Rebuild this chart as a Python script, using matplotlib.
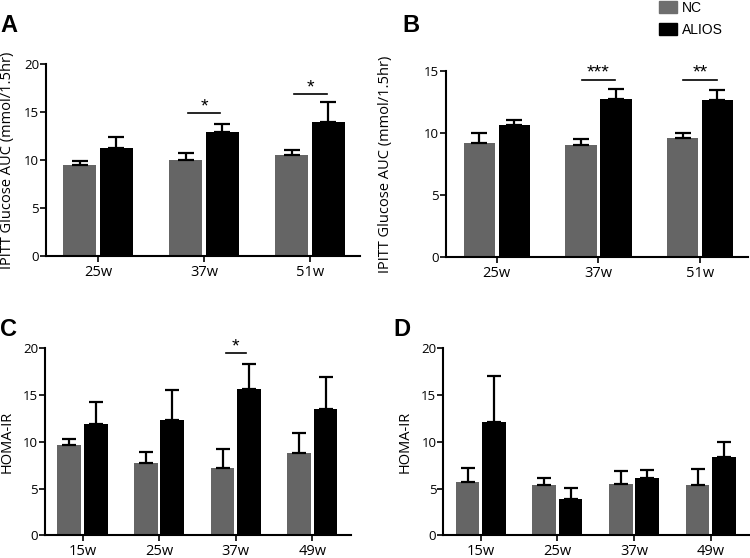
import numpy as np
import matplotlib
matplotlib.use("Agg")
from matplotlib import pyplot as plt
from matplotlib.patches import Patch

# dados
semanas_ab = ['25w', '37w', '51w']
semanas_cd = ['15w', '25w', '37w', '49w']

a_nc = [9.45, 10.05, 10.5]
a_nc_err = [0.4, 0.7, 0.5]
a_alios = [11.2, 12.95, 14.0]
a_alios_err = [1.15, 0.85, 2.0]

b_nc = [9.15, 9.05, 9.55]
b_nc_err = [0.8, 0.45, 0.45]
b_alios = [10.6, 12.75, 12.65]
b_alios_err = [0.45, 0.8, 0.85]

c_nc = [9.65, 7.75, 7.25, 8.85]
c_nc_err = [0.65, 1.2, 1.95, 2.05]
c_alios = [11.95, 12.3, 15.6, 13.55]
c_alios_err = [2.3, 3.25, 2.7, 3.35]

d_nc = [5.65, 5.4, 5.45, 5.35]
d_nc_err = [1.5, 0.7, 1.45, 1.7]
d_alios = [12.15, 3.9, 6.15, 8.4]
d_alios_err = [4.9, 1.2, 0.85, 1.6]

# significancia: (indice do grupo, texto, altura)
sig_a = [(1, '*', 14.85), (2, '*', 16.9)]
sig_b = [(1, '***', 14.3), (2, '**', 14.3)]
sig_c = [(2, '*', 19.45)]

cinza = '#656565'
preto = '#000000'
fonte_tick = 'Open Sans'
fonte_txt = 'Liberation Sans'


def painel(ax, cats, nc, nc_err, al, al_err, ymax, ystep, ylabel, xlim, sig, cap, line_half):
    x = np.arange(len(cats))
    w = 0.31
    off = 0.172
    ax.bar(x - off, nc, w, color=cinza, yerr=[np.zeros(len(nc)), nc_err],
           error_kw=dict(ecolor='black', elinewidth=1.6, capsize=cap, capthick=1.6))
    ax.bar(x + off, al, w, color=preto, yerr=[np.zeros(len(al)), al_err],
           error_kw=dict(ecolor='black', elinewidth=1.6, capsize=cap, capthick=1.6))
    for i, txt, h in sig:
        ax.plot([i - line_half, i + line_half], [h, h], color='black', lw=1.2, clip_on=False)
        ax.text(i, h - ymax * 0.012, txt, ha='center', va='bottom', fontsize=14,
                family=fonte_txt)
    ax.set_xlim(*xlim)
    ax.set_ylim(0, ymax)
    ax.set_yticks(np.arange(0, ymax + 0.1, ystep))
    ax.set_xticks(x)
    ax.set_xticklabels(cats, family=fonte_tick, fontsize=10.5)
    for lb in ax.get_yticklabels():
        lb.set_family(fonte_tick)
        lb.set_fontsize(9.5)
    ax.spines['top'].set_visible(False)
    ax.spines['right'].set_visible(False)
    ax.spines['left'].set_linewidth(1.5)
    ax.spines['bottom'].set_linewidth(1.5)
    ax.tick_params(axis='y', length=4, width=1.2, pad=1)
    ax.tick_params(axis='x', length=4, width=1.2, pad=2.5)
    ax.set_ylabel(ylabel, family=fonte_tick, fontsize=10.5)


fig = plt.figure(figsize=(7.5, 5.58), dpi=100)

axA = fig.add_axes([0.0613, 0.5412, 0.4187, 0.3441])
painel(axA, semanas_ab, a_nc, a_nc_err, a_alios, a_alios_err, 20, 5,
       'IPITT Glucose AUC (mmol/1.5hr)', (-0.49, 2.47), sig_a, 5.5, 0.155)

axB = fig.add_axes([0.5947, 0.54, 0.4023, 0.3328])
painel(axB, semanas_ab, b_nc, b_nc_err, b_alios, b_alios_err, 15, 5,
       'IPITT Glucose AUC (mmol/1.5hr)', (-0.5, 2.47), sig_b, 5.5, 0.165)

axC = fig.add_axes([0.06, 0.0407, 0.4076, 0.3351])
painel(axC, semanas_cd, c_nc, c_nc_err, c_alios, c_alios_err, 20, 5,
       'HOMA-IR', (-0.49, 3.5), sig_c, 5, 0.13)

axD = fig.add_axes([0.591, 0.0407, 0.4077, 0.3351])
painel(axD, semanas_cd, d_nc, d_nc_err, d_alios, d_alios_err, 20, 5,
       'HOMA-IR', (-0.49, 3.5), [], 5, 0.13)

axA.yaxis.set_label_coords(-0.098, 0.5)
axB.yaxis.set_label_coords(-0.175, 0.5)
axC.yaxis.set_label_coords(-0.098, 0.5)
axD.yaxis.set_label_coords(-0.10, 0.5)

# letras dos paineis
for txt, xx, yy in [('A', 0.0, 0.9427), ('B', 0.536, 0.9427), ('C', 0.0, 0.397), ('D', 0.524, 0.397)]:
    fig.text(xx, yy, txt, fontsize=17, fontweight='bold', family=fonte_txt, va='baseline')

# legenda
handles = [Patch(color='#6e6e6e', label='NC'), Patch(color='black', label='ALIOS')]
fig.legend(handles=handles, loc='upper left', bbox_to_anchor=(0.879, 0.998), frameon=False,
           prop={'family': fonte_txt, 'size': 10}, handlelength=1.3, handleheight=0.93,
           labelspacing=0.58, handletextpad=0.35, borderpad=0, borderaxespad=0)

fig.savefig('out.png', dpi=100)
